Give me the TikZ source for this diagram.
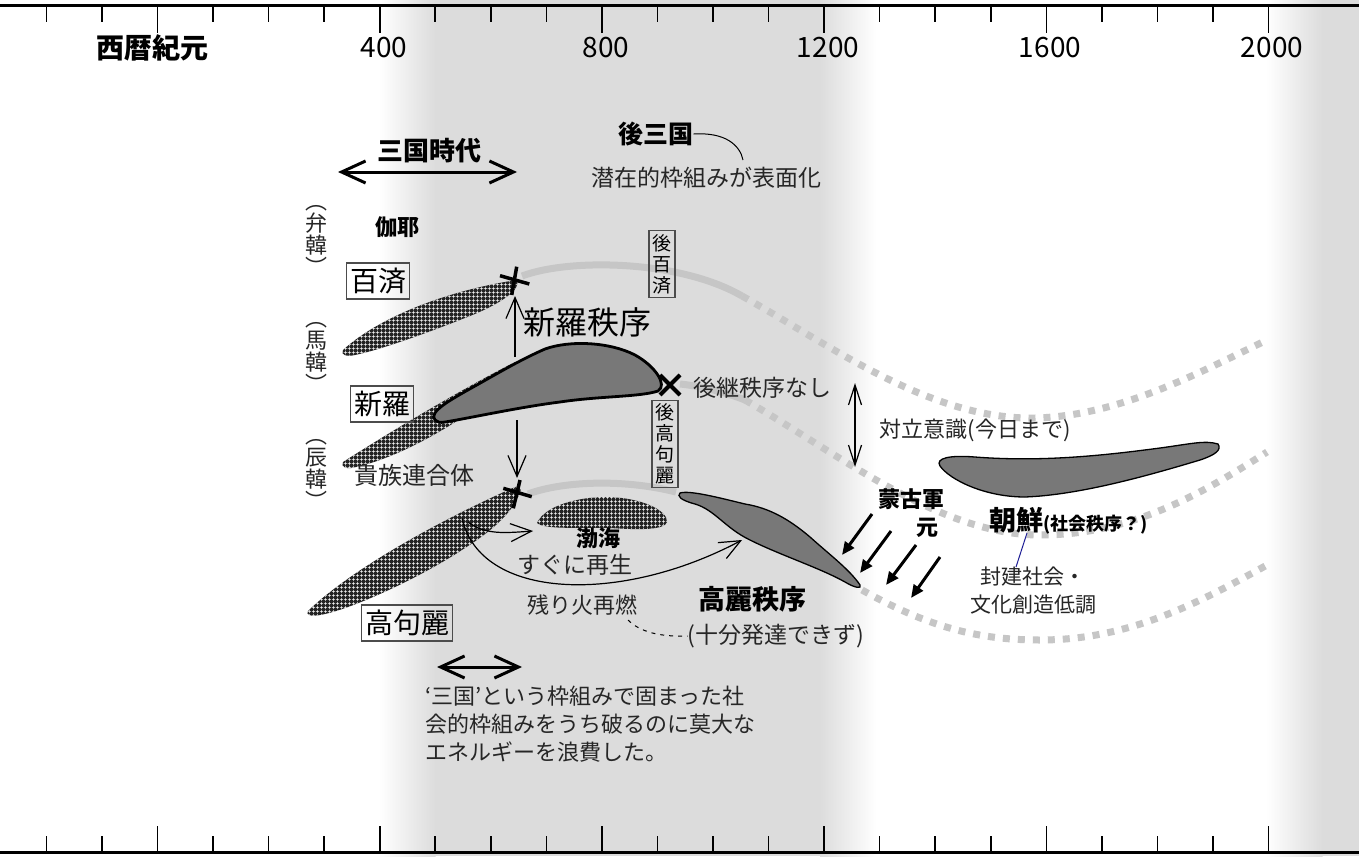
\documentclass[tikz,border=0pt]{standalone}
\usepackage{fontspec}
\setmainfont{Noto Sans CJK JP}
\usetikzlibrary{arrows.meta,patterns.meta}
\definecolor{bggray}{RGB}{220,220,220}
\definecolor{lgray}{RGB}{198,198,198}
\definecolor{shp}{RGB}{120,120,120}
\definecolor{hatchc}{RGB}{35,35,35}
\definecolor{navyln}{RGB}{30,30,150}
\newcommand\fz[2]{\fontsize{#1bp}{#2bp}\selectfont}
\tikzset{
  lbl/.style={inner sep=0pt},
  thinlbl/.style={inner sep=0pt, text=black!85},
  boxlbl/.style={draw=black!70, line width=1.6bp, inner xsep=3.5bp, inner ysep=5bp, font=\fz{28}{30}},
  vboxlbl/.style={draw=black!70, line width=1.3bp, align=center, inner xsep=3.5bp, inner ysep=3.5bp, font=\fz{19}{21}},
  vlab/.style={inner sep=0pt, align=center, font=\fz{22}{22}, text=black!85},
  gline/.style={draw=lgray, line width=7bp},
  gdots/.style={draw=lgray, line width=7bp, dash pattern=on 7bp off 8bp},
  hatched/.style={fill=hatchc, postaction={pattern={Hatch[distance=3.6bp,line width=0.5bp]}, pattern color=white}},
  ordershape/.style={fill=shp, draw=black},
  tick/.style={line width=1.6bp},
  thinarrow/.style={line width=1.2bp, arrows={-Straight Barb[length=21bp,width=18bp]}},
  bigdbl/.style={line width=3bp, arrows={Straight Barb[length=24bp,width=22bp]-Straight Barb[length=24bp,width=22bp]}},
  thindbl/.style={line width=1.2bp, arrows={Straight Barb[length=20bp,width=13bp]-Straight Barb[length=20bp,width=13bp]}},
  mongol/.style={line width=3bp, arrows={-Triangle[length=13bp,width=11bp]}},
  crossmark/.style={line width=3.5bp},
}
\begin{document}
\begin{tikzpicture}[x=1bp,y=-1bp]
\useasboundingbox (0,0) rectangle (1359,856);
% background bands
\fill[white] (0,0) rectangle (1359,856);
\shade[left color=white,right color=bggray] (379,0) rectangle (435.5,856);
\fill[bggray] (435,0) rectangle (820.5,856);
\shade[left color=bggray,right color=white] (820,0) rectangle (876,856);
\shade[left color=white,right color=bggray] (1266,0) rectangle (1322.5,856);
\fill[bggray] (1322,0) rectangle (1359,856);
% axes
\draw[line width=3bp] (0,5) -- (1359,5);
\draw[line width=3bp] (0,852) -- (1359,852);
\foreach \i in {-2,...,20}{
  \pgfmathsetmacro\xx{157.5+55.55*\i}
  \pgfmathtruncatemacro\m{mod(\i+8,4)}
  \pgfmathsetmacro\tl{\m==0 ? 33 : 22}
  \pgfmathsetmacro\bl{\m==0 ? 826 : 836}
  \draw[tick] (\xx,5) -- (\xx,\tl);
  \draw[tick] (\xx,852) -- (\xx,\bl);
}
\node[lbl, font=\fz{28}{30}\bfseries] (seireki) at (152,48) {西暦紀元};
\foreach \yr/\xx in {400/384,800/606,1200/828,1600/1050,2000/1272}
  \node[lbl, font=\fz{28}{30}] (yr\yr) at (\xx,48) {\yr};

% grey trajectories
\coordinate (a0) at (522,276); \coordinate (a1) at (742,296);
\coordinate (a2) at (1035,418); \coordinate (a3) at (1267,340);
\draw[gline] (a0) .. controls (570,258) and (680,260) .. (a1);
\draw[gdots] (a1) .. controls (830,345) and (930,420) .. (a2) .. controls (1120,416) and (1200,372) .. (a3);
\coordinate (b0) at (680,384); \coordinate (b1) at (745,400);
\coordinate (b2) at (1040,535); \coordinate (b3) at (1267,452);
\draw[gline] (b0) .. controls (700,386) and (725,392) .. (b1);
\draw[gdots] (b1) .. controls (840,455) and (940,535) .. (b2) .. controls (1130,535) and (1200,495) .. (b3);
\coordinate (c0) at (862,590); \coordinate (c1) at (1040,640); \coordinate (c2) at (1267,565);
\draw[gdots] (c0) .. controls (930,628) and (980,640) .. (c1) .. controls (1130,640) and (1200,602) .. (c2);
\coordinate (d0) at (528,494); \coordinate (d1) at (676,492);
\draw[gline] (d0) .. controls (560,482) and (620,478) .. (d1);

% hatched kingdoms
\path[hatched] (343,350) .. controls (380,316) and (450,290) .. (517,280) .. controls (521,288) and (505,302) .. (470,316) .. controls (430,332) and (380,350) .. (355,355) .. controls (347,357) and (340,355) .. (343,350) -- cycle;
\path[hatched] (343,462) .. controls (390,432) and (460,390) .. (515,362) -- (522,372) .. controls (480,410) and (410,455) .. (356,467) .. controls (347,470) and (340,467) .. (343,462) -- cycle;
\path[hatched] (308,611) .. controls (350,570) and (440,520) .. (515,487) .. controls (522,486) and (522,492) .. (518,497) .. controls (510,515) and (490,532) .. (465,548) .. controls (420,578) and (350,610) .. (320,615) .. controls (312,617) and (305,615) .. (308,611) -- cycle;
\path[hatched] (537,523) .. controls (545,505) and (580,497) .. (605,497) .. controls (640,497) and (668,510) .. (667,522) .. controls (665,530) and (640,530) .. (610,528) .. controls (580,527) and (545,530) .. (537,523) -- cycle;

% order shapes
\path[ordershape, line width=2.8bp] (435,420) .. controls (428,412) and (450,400) .. (475,386) .. controls (500,372) and (520,360) .. (545,349) .. controls (570,340) and (610,342) .. (635,355) .. controls (655,366) and (668,385) .. (658,391) .. controls (640,397) and (600,396) .. (560,402) .. controls (520,407) and (470,418) .. (445,422) .. controls (440,423) and (437,422) .. (435,420) -- cycle;
\path[ordershape, line width=1.3bp] (680,493) .. controls (690,490) and (720,498) .. (745,504) .. controls (770,508) and (790,520) .. (810,537) .. controls (830,555) and (850,570) .. (860,585) .. controls (862,589) and (855,588) .. (845,582) .. controls (820,568) and (780,555) .. (750,540) .. controls (725,528) and (715,510) .. (695,504) .. controls (680,500) and (677,496) .. (680,493) -- cycle;
\path[ordershape, line width=1.3bp] (940,466) .. controls (935,458) and (950,455) .. (975,457) .. controls (1040,462) and (1100,456) .. (1160,448) .. controls (1190,444) and (1205,440) .. (1218,444) .. controls (1222,450) and (1215,455) .. (1200,460) .. controls (1150,475) and (1080,495) .. (1025,497) .. controls (985,497) and (950,480) .. (940,466) -- cycle;

% crosses
\draw[crossmark] (516.7,266.7) -- (511.7,295) (500,275.7) -- (529.3,284);
\draw[crossmark] (520,480) -- (513.3,508.3) (503.3,488.3) -- (531.7,496.7);
\draw[line width=4bp] (660,375) -- (680,395) (660,395) -- (680,375);

% arrows
\coordinate (upS) at (515,357); \coordinate (upE) at (515,296);
\draw[thinarrow] (upS) -- (upE);
\coordinate (dnS) at (517,420); \coordinate (dnE) at (517,478);
\draw[thinarrow] (dnS) -- (dnE);
\coordinate (sgL) at (338,172); \coordinate (sgR) at (517,172);
\draw[bigdbl] (sgL) -- (sgR);
\coordinate (btL) at (437,667); \coordinate (btR) at (522,667);
\draw[bigdbl] (btL) -- (btR);
\coordinate (trT) at (855,383); \coordinate (trB) at (855,467);
\draw[thindbl] (trT) -- (trB);
\coordinate (kg0) at (462,518); \coordinate (kg1) at (742,540);
\draw[thinarrow] (kg0) .. controls (480,600) and (620,605) .. (kg1);
\coordinate (bh0) at (468,522); \coordinate (bh1) at (533,531);
\draw[thinarrow] (bh0) .. controls (485,535) and (505,533) .. (bh1);
\coordinate (m1s) at (872,514); \coordinate (m1e) at (842,555);
\coordinate (m2s) at (891,531); \coordinate (m2e) at (860,573);
\coordinate (m3s) at (916,545); \coordinate (m3e) at (886,585);
\coordinate (m4s) at (940,557); \coordinate (m4e) at (911,598);
\foreach \k in {1,2,3,4} \draw[mongol] (m\k s) -- (m\k e);

% labels
\node[lbl, font=\fz{26}{28}\bfseries] (sangoku) at (429,151) {三国時代};
\node[lbl, font=\fz{25}{27}\bfseries] (gosan) at (656,134) {後三国};
\node[thinlbl, font=\fz{23}{25}] (senzai) at (706,178) {潜在的枠組みが表面化};
\coordinate (gosanEnd) at (743,160);
\draw[line width=1bp] (gosan.east) .. controls (725,132) and (740,145) .. (gosanEnd);
\node[vlab] (benkan) at (316,240) {︵\\弁\\韓\\︶};
\node[vlab] (bakan) at (316,357) {︵\\馬\\韓\\︶};
\node[vlab] (shinkan) at (316,474) {︵\\辰\\韓\\︶};
\node[lbl, font=\fz{22}{24}\bfseries] (gaya) at (397,227) {伽耶};
\node[boxlbl] (kudara) at (378,281) {百済};
\node[boxlbl] (shiragi) at (382,404) {新羅};
\node[boxlbl] (kokuri) at (407,623) {高句麗};
\node[vboxlbl] (gokudara) at (662,264) {後\\百\\済};
\node[vboxlbl] (gokokuri) at (665,444) {後\\高\\句\\麗};
\node[lbl, font=\fz{32}{34}] (shiraord) at (587,322) {新羅秩序};
\node[thinlbl, font=\fz{23}{25}] (koukei) at (762,388) {後継秩序なし};
\node[thinlbl, font=\fz{24}{26}] (kizoku) at (414,475) {貴族連合体};
\node[lbl, font=\fz{22}{24}\bfseries] (bokkai) at (598,538) {渤海};
\node[thinlbl, font=\fz{23}{25}] (sugu) at (575,565) {すぐに再生};
\node[thinlbl, font=\fz{22}{24}] (nokori) at (582,605) {残り火再燃};
\node[lbl, font=\fz{27}{29}\bfseries] (koraiord) at (752,599) {高麗秩序};
\node[thinlbl, font=\fz{23}{25}] (jubun) at (776,636) {(十分発達できず)};
\coordinate (nokoriEnd) at (628,620);
\draw[line width=1bp, dash pattern=on 4bp off 5bp] (nokoriEnd) .. controls (640,632) and (660,637) .. (jubun.west);
\node[thinlbl, font=\fz{22}{24}] (tairitsu) at (975,430) {対立意識(今日まで)};
\node[lbl, font=\fz{22}{24}\bfseries] (moko) at (911,499) {蒙古軍};
\node[lbl, font=\fz{22}{24}\bfseries] (gen) at (927,528) {元};
\node[lbl, font=\fz{27}{29}\bfseries] (chosen) at (1016,520) {朝鮮};
\node[lbl, font=\fz{18}{20}\bfseries, anchor=base west] (shakai) at (chosen.base east) {(社会秩序？)};
\node[thinlbl, align=center, font=\fz{21}{28}] (houken) at (1033,591) {封建社会・\\文化創造低調};
\coordinate (bl1) at (1027,533); \coordinate (bl2) at (1016,567);
\draw[navyln, line width=1bp] (bl1) -- (bl2);
\node[thinlbl, anchor=north west, align=left, font=\fz{22}{28}] (note) at (425,686) {‘三国’という枠組みで固まった社\\会的枠組みをうち破るのに莫大な\\エネルギーを浪費した。};
\end{tikzpicture}
\end{document}
